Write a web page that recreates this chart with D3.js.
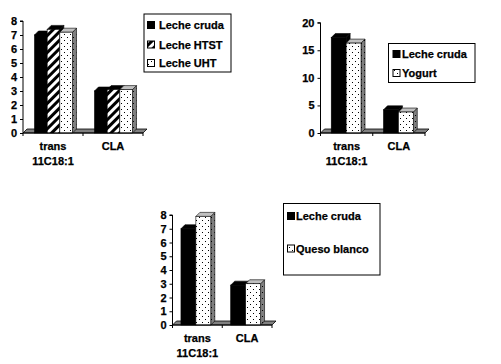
<!DOCTYPE html>
<html><head><meta charset="utf-8">
<script src="https://cdn.jsdelivr.net/npm/d3@7"></script>
<style>
html,body{margin:0;padding:0;background:#fff;}
svg{display:block;}
text{font-family:"Liberation Sans",Arial,sans-serif;font-weight:bold;font-size:11px;fill:#000;stroke:#000;stroke-width:0.25px;}
</style></head>
<body>
<script>
// ---------- DATA ----------
const categories = [["trans","11C18:1"],["CLA"]];
const categoryKeys = ["trans","CLA"];

const series1 = ["Leche cruda","Leche HTST","Leche UHT"];
const values1 = [[7.0,3.0],[7.4,3.1],[7.2,3.1]];
const ticks1 = [0,1,2,3,4,5,6,7,8];

const series2 = ["Leche cruda","Yogurt"];
const values2 = [[17.3,4.2],[16.3,3.8]];
const ticks2 = [0,5,10,15,20];

const series3 = ["Leche cruda","Queso blanco"];
const values3 = [[7.0,2.9],[7.9,3.0]];
const ticks3 = [0,1,2,3,4,5,6,7,8];

// fill styles per series name
const styleOf = {
  "Leche cruda": "solid",
  "Leche HTST": "hatch",
  "Leche UHT": "dots",
  "Yogurt": "dots",
  "Queso blanco": "dots"
};

// ---------- DRAW ----------
const W = 501, H = 364;
const svg = d3.select("body").append("svg").attr("width", W).attr("height", H);
svg.append("rect").attr("width", W).attr("height", H).attr("fill", "#fff");

const defs = svg.append("defs");
const hp = defs.append("pattern").attr("id","hatch").attr("patternUnits","userSpaceOnUse")
  .attr("width",6).attr("height",6).attr("patternTransform","rotate(45)");
hp.append("rect").attr("width",6).attr("height",6).attr("fill","#000");
hp.append("rect").attr("width",3).attr("height",6).attr("fill","#fff");

function dotPattern(id, bg) {
  const p = defs.append("pattern").attr("id",id).attr("patternUnits","userSpaceOnUse")
    .attr("width",6).attr("height",6);
  p.append("rect").attr("width",6).attr("height",6).attr("fill",bg);
  p.append("rect").attr("x",1).attr("y",1).attr("width",1).attr("height",1).attr("fill","#000");
  p.append("rect").attr("x",4).attr("y",4).attr("width",1).attr("height",1).attr("fill","#000");
}
dotPattern("dots","#fff");
dotPattern("dotsSide","#808080");

function faces(kind) {
  if (kind === "solid") return {front:"#000", top:"#000", side:"#000"};
  if (kind === "hatch") return {front:"url(#hatch)", top:"#000", side:"#000"};
  return {front:"url(#dots)", top:"#c0c0c0", side:"url(#dotsSide)"};
}

function chart(cfg) {
  const g = svg.append("g");
  const y = d3.scaleLinear().domain([0, d3.max(cfg.ticks)]).range([cfg.y0, cfg.yTop]);
  const x0 = d3.scaleBand().domain(categoryKeys).range([cfg.xl, cfg.xr]).paddingInner(cfg.pad).paddingOuter(cfg.pad/2);
  const x1 = d3.scaleBand().domain(cfg.series).range([0, x0.bandwidth()]);
  const dx = cfg.dx, dy = cfg.dy;

  // floor
  g.append("polygon")
    .attr("points", [[cfg.xl, cfg.y0],[cfg.xl+dx, cfg.y0-dy],[cfg.xr+dx, cfg.y0-dy],[cfg.xr, cfg.y0]].map(p=>p.join(",")).join(" "))
    .attr("fill","#808080").attr("stroke","#000").attr("stroke-width",0.8);

  // bars
  categoryKeys.forEach((c, ci) => {
    cfg.series.forEach((s, si) => {
      const v = cfg.values[si][ci];
      const bx = x0(c) + x1(s) + cfg.shift;
      const bw = x1.bandwidth();
      const by = y(v);
      const f = faces(styleOf[s]);
      const bg = g.append("g");
      bg.append("polygon").attr("points", [[bx+bw,by],[bx+bw+dx,by-dy],[bx+bw+dx,cfg.y0-dy],[bx+bw,cfg.y0]].map(p=>p.join(",")).join(" "))
        .attr("fill", f.side).attr("stroke","#000").attr("stroke-width",0.6);
      bg.append("polygon").attr("points", [[bx,by],[bx+dx,by-dy],[bx+bw+dx,by-dy],[bx+bw,by]].map(p=>p.join(",")).join(" "))
        .attr("fill", f.top).attr("stroke","#000").attr("stroke-width",0.6);
      bg.append("rect").attr("x",bx).attr("y",by).attr("width",bw).attr("height",cfg.y0-by)
        .attr("fill", f.front).attr("stroke","#000").attr("stroke-width",0.6);
    });
  });

  // value axis
  const ya = d3.axisLeft(y).tickValues(cfg.ticks).tickSize(3).tickPadding(3).tickFormat(d3.format("d"));
  const yg = g.append("g").attr("transform", `translate(${cfg.xl},0)`).call(ya);
  yg.select(".domain").attr("stroke","#000").attr("d", `M-3,${cfg.yTop}H0V${cfg.y0}`);
  yg.selectAll(".tick line").attr("stroke","#000");
  yg.selectAll("text").attr("font-family",null).attr("font-size",null).attr("fill","#000");
  yg.attr("font-family",null).attr("font-size",null);

  // category axis
  g.append("line").attr("x1",cfg.xl).attr("x2",cfg.xr).attr("y1",cfg.y0).attr("y2",cfg.y0).attr("stroke","#000");
  const bounds = [cfg.xl].concat(categoryKeys.map(c => x0(c) + x0.bandwidth() + x0.step()*cfg.pad/2));
  bounds.forEach(b => g.append("line").attr("x1",b).attr("x2",b).attr("y1",cfg.y0).attr("y2",cfg.y0+3).attr("stroke","#000"));
  categoryKeys.forEach((c, ci) => {
    const cx = x0(c) + x0.bandwidth()/2;
    categories[ci].forEach((line, li) => {
      g.append("text").attr("x",cx).attr("y",cfg.y0 + 17 + li*15).attr("text-anchor","middle").text(line);
    });
  });

  // legend
  const L = cfg.legend;
  const lg = g.append("g");
  lg.append("rect").attr("x",L.x).attr("y",L.y).attr("width",L.w).attr("height",L.h)
    .attr("fill","#fff").attr("stroke","#000").attr("stroke-width",1);
  cfg.series.forEach((s, si) => {
    const cy = L.rows[si];
    const f = faces(styleOf[s]);
    lg.append("rect").attr("x",L.mx).attr("y",cy-3.5).attr("width",7).attr("height",7)
      .attr("fill", f.front).attr("stroke","#000").attr("stroke-width",1);
    lg.append("text").attr("x",L.tx).attr("y",cy+4).text(s);
  });
}

chart({series: series1, values: values1, ticks: ticks1,
  xl: 23, xr: 143, y0: 133, yTop: 21, pad: 0.367, shift: 0.5, dx: 4, dy: 4,
  legend: {x:144, y:14, w:87, h:58, mx:147.5, tx:159, rows:[25,44.5,63]}});

chart({series: series2, values: values2, ticks: ticks2,
  xl: 320.5, xr: 425, y0: 133, yTop: 22.7, pad: 0.43, shift: -0.5, dx: 4, dy: 4,
  legend: {x:388.5, y:43.5, w:86.5, h:39, mx:393, tx:402, rows:[54,73]}});

chart({series: series3, values: values3, ticks: ticks3,
  xl: 172.5, xr: 272, y0: 325, yTop: 215, pad: 0.4, shift: -1.5, dx: 4, dy: 4,
  legend: {x:283.5, y:203.5, w:96.5, h:71.5, mx:287.5, tx:296, rows:[216,248.5]}});
</script>
</body></html>
